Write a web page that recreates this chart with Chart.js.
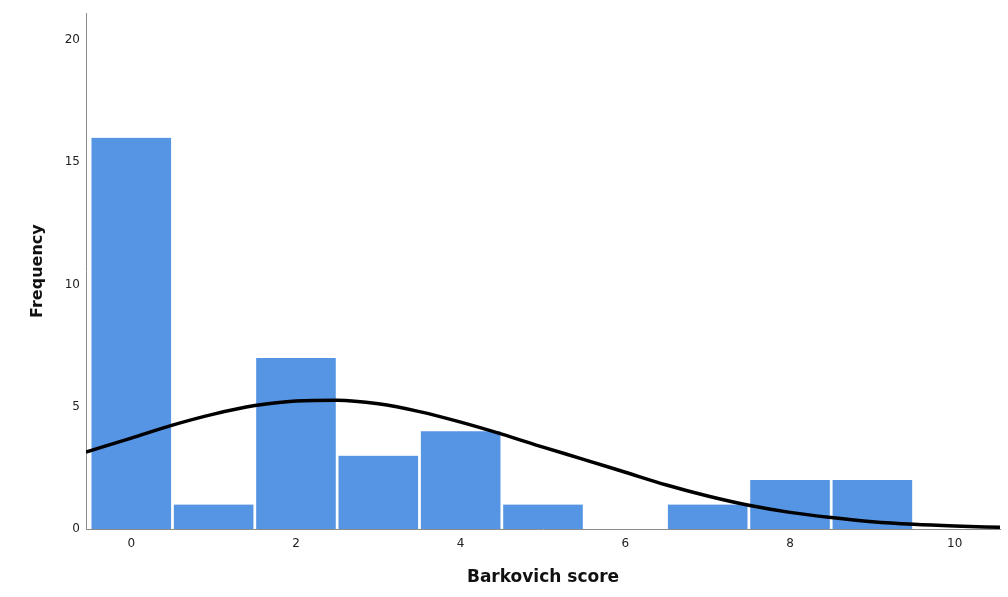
<!DOCTYPE html>
<html>
<head>
<meta charset="utf-8">
<script src="https://cdn.jsdelivr.net/npm/chart.js@4/dist/chart.umd.min.js"></script>
<style>
  html, body { margin: 0; padding: 0; background: #ffffff; }
  #c { display: block; }
</style>
</head>
<body>
<canvas id="c" width="1008" height="597"></canvas>
<script>
// Histogram bins (Barkovich score) and frequencies
const categories = [0, 1, 2, 3, 4, 5, 6, 7, 8, 9];
const frequencies = [16, 1, 7, 3, 4, 1, 0, 1, 2, 2];

// Normal curve, values
const curveX = [-0.55, 0, 0.5, 1, 1.5, 2, 2.5, 3, 3.5, 4, 4.5, 5, 5.5, 6, 6.5, 7, 7.5, 8, 8.5, 9, 9.5, 10, 10.55];
const curveY = [3.15, 3.72, 4.25, 4.7, 5.05, 5.24, 5.27, 5.12, 4.8, 4.37, 3.88, 3.35, 2.84, 2.32, 1.8, 1.35, 0.97, 0.68, 0.47, 0.3, 0.19, 0.12, 0.07];

// Tick labels
const xTicks = [0, 2, 4, 6, 8, 10];
const yTicks = [0, 5, 10, 15, 20];

const xTitle = 'Barkovich score';
const yTitle = 'Frequency';

const tickFont = { family: 'DejaVu Sans', size: 12 };

new Chart(document.getElementById('c'), {
  data: {
    datasets: [
      {
        type: 'line',
        data: curveX.map((x, i) => ({ x: x, y: curveY[i] })),
        borderColor: '#000000',
        borderWidth: 3.5,
        pointRadius: 0,
        fill: false,
        tension: 0.4,
        cubicInterpolationMode: 'monotone'
      },
      {
        type: 'bar',
        data: categories.map((c, i) => ({ x: c, y: frequencies[i] })),
        backgroundColor: '#5595e3',
        borderColor: '#ffffff',
        borderWidth: { left: 1.7, right: 1.7, top: 0, bottom: 0 },
        borderSkipped: 'bottom',
        barPercentage: 1,
        categoryPercentage: 1
      }
    ]
  },
  options: {
    responsive: false,
    animation: false,
    devicePixelRatio: 1,
    layout: { padding: { left: 0, right: 8, top: 12, bottom: 0 } },
    plugins: { legend: { display: false }, tooltip: { enabled: false } },
    scales: {
      x: {
        type: 'linear',
        offset: false,
        min: -0.55,
        max: 10.55,
        grid: { display: false, drawTicks: false, offset: false },
        border: { display: true, color: '#8c8c8c', width: 1, z: 1 },
        afterBuildTicks: (s) => { s.ticks = xTicks.map(v => ({ value: v })); },
        afterFit: (s) => { s.height = 68; },
        ticks: { font: tickFont, color: '#222222', padding: 8, maxRotation: 0 },
        title: {
          display: true,
          text: xTitle,
          font: { family: 'DejaVu Sans', size: 17, weight: 'bold' },
          color: '#111111',
          padding: { top: 0, bottom: 9 }
        }
      },
      y: {
        type: 'linear',
        min: 0,
        max: 21.1,
        grid: { display: false, drawTicks: false },
        border: { display: true, color: '#8c8c8c', width: 1 },
        afterBuildTicks: (s) => { s.ticks = yTicks.map(v => ({ value: v })); },
        afterFit: (s) => { s.width = 86; },
        ticks: { font: tickFont, color: '#222222', padding: 6 },
        title: {
          display: true,
          text: yTitle,
          font: { family: 'DejaVu Sans', size: 16, weight: 'bold' },
          color: '#111111',
          padding: { top: 28, bottom: 0 }
        }
      }
    }
  }
});
</script>
</body>
</html>
